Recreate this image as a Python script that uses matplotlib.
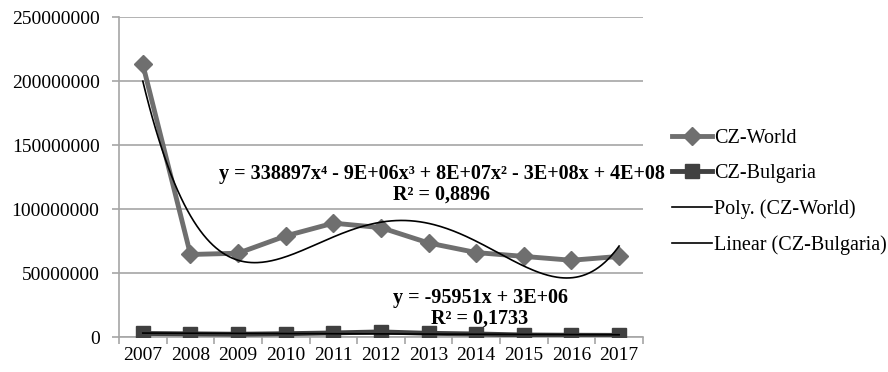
import numpy as np
import matplotlib.pyplot as plt
from matplotlib.ticker import FixedLocator

plt.rcParams['font.family'] = ['Liberation Serif', 'DejaVu Serif']

years = ['2007', '2008', '2009', '2010', '2011', '2012', '2013', '2014', '2015', '2016', '2017']
cz_world = [213e6, 64.5e6, 65.5e6, 79e6, 89e6, 85.5e6, 73.5e6, 66e6, 63e6, 60e6, 63e6]
cz_bulgaria = [2.8e6, 2.5e6, 2.2e6, 2.6e6, 3.2e6, 4.0e6, 2.9e6, 2.4e6, 1.6e6, 1.4e6, 1.3e6]

eq_world = 'y = 338897x\u2074 - 9E+06x\u00b3 + 8E+07x\u00b2 - 3E+08x + 4E+08\nR\u00b2 = 0,8896'
eq_bulg = 'y = -95951x + 3E+06\nR\u00b2 = 0,1733'

x = np.arange(1, len(years) + 1)

fig = plt.figure(figsize=(8.88, 3.72), dpi=100)
ax = fig.add_axes([0.134, 0.094, 0.590, 0.860])

grid_c = '#a6a6a6'
ax.set_ylim(0, 250e6)
ax.set_xlim(0.5, len(years) + 0.5)
ax.set_yticks(np.arange(0, 250e6 + 1, 50e6))
ax.set_yticklabels(['%d' % v for v in np.arange(0, 250e6 + 1, 50e6)])
ax.yaxis.grid(True, color=grid_c, linewidth=1.2)
ax.set_axisbelow(True)
ax.set_xticks(x)
ax.set_xticklabels(years)
ax.xaxis.set_minor_locator(FixedLocator(np.arange(0.5, len(years) + 1, 1)))
ax.tick_params(axis='x', which='major', length=0, labelsize=14, pad=7)
ax.tick_params(axis='x', which='minor', length=5, color=grid_c, width=1.2)
ax.tick_params(axis='y', length=5, color=grid_c, width=1.2, labelsize=14, pad=9)
for s in ['top', 'right']:
    ax.spines[s].set_visible(False)
for s in ['left', 'bottom']:
    ax.spines[s].set_color(grid_c)
    ax.spines[s].set_linewidth(1.2)

ax.plot(x, cz_world, color='#6f6f6f', lw=3.5, marker='D', ms=9.5, label='CZ-World', zorder=3)
ax.plot(x, cz_bulgaria, color='#404040', lw=3.5, marker='s', ms=10, label='CZ-Bulgaria', zorder=3)

# trendlines
xs = np.linspace(1, len(years), 300)
pw = np.polyfit(x, cz_world, 4)
ax.plot(xs, np.polyval(pw, xs), color='black', lw=1.2, label='Poly. (CZ-World)', zorder=4)
pb = np.polyfit(x, cz_bulgaria, 1)
ax.plot(x, np.polyval(pb, x), color='black', lw=1.2, label='Linear (CZ-Bulgaria)', zorder=4)

ax.text(7.28, 119.5e6, eq_world, ha='center', va='center', fontsize=14.5, fontweight='bold',
        linespacing=1.05)
ax.text(8.08, 22.7e6, eq_bulg, ha='center', va='center', fontsize=14.5, fontweight='bold',
        linespacing=1.05)

leg = ax.legend(loc='center left', bbox_to_anchor=(1.055, 0.453), frameon=False, fontsize=14.5,
                handlelength=2.0, labelspacing=0.8, handletextpad=0.1, borderaxespad=0,
                borderpad=0)

fig.savefig('out.png', dpi=100)
